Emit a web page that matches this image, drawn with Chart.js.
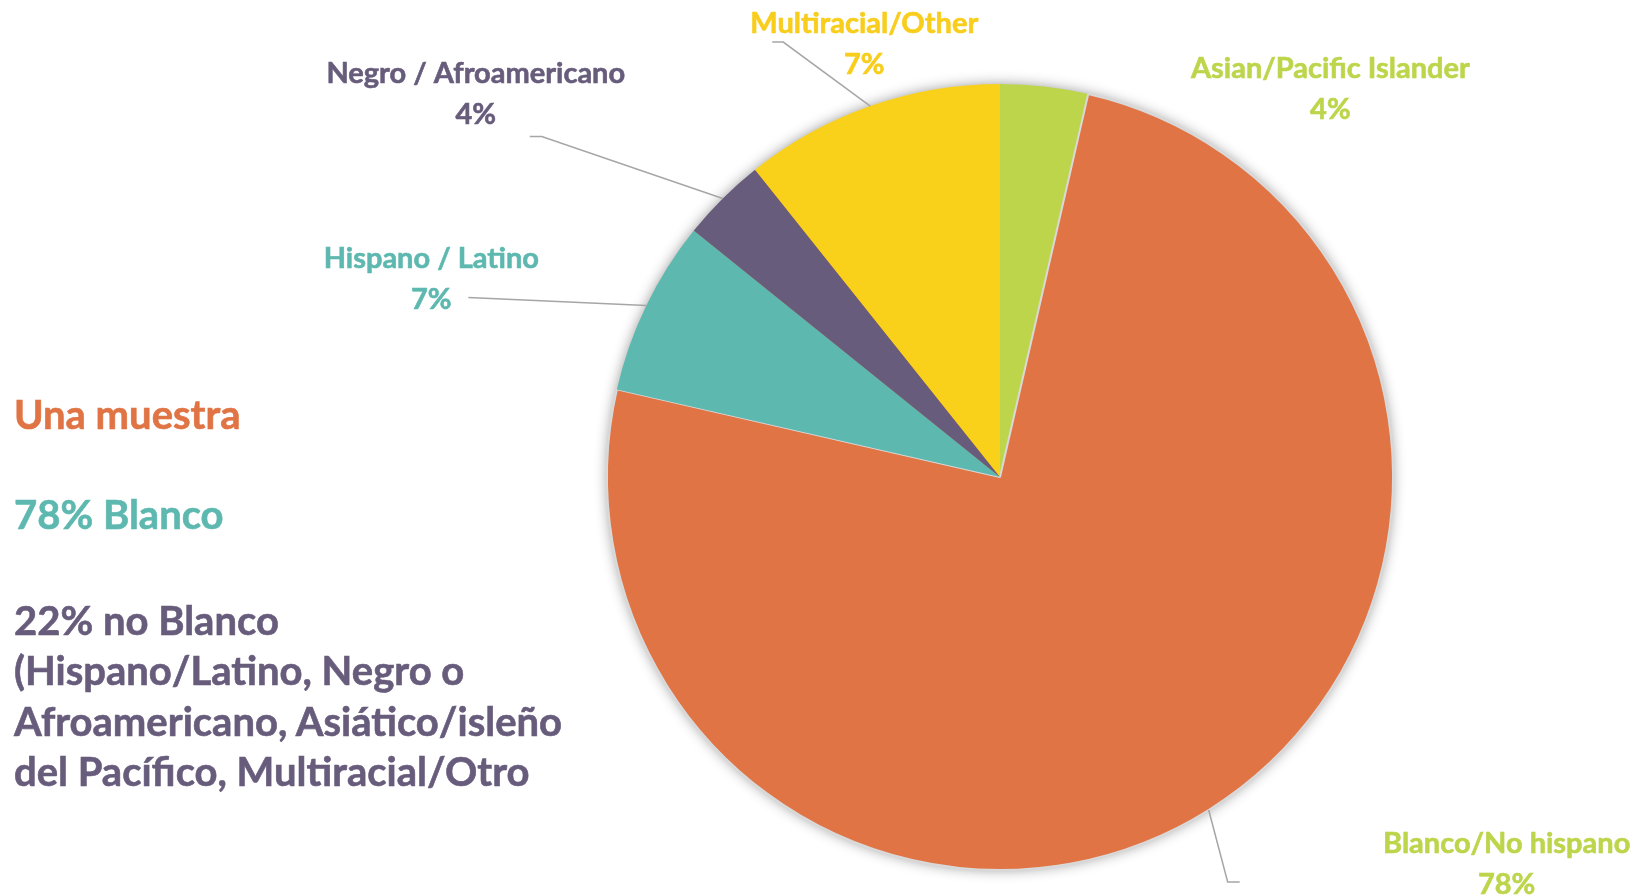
<!DOCTYPE html>
<html>
<head>
<meta charset="utf-8">
<script src="https://cdn.jsdelivr.net/npm/chart.js@4/dist/chart.umd.min.js"></script>
<style>
  html, body { margin: 0; padding: 0; background: #fff; }
  #wrap { position: relative; width: 1651px; height: 896px; overflow: hidden; font-family: Lato, sans-serif; font-weight: 700; }
  canvas { position: absolute; left: 0; top: 0; }
  .note { position: absolute; left: 14px; font-size: 40px; line-height: 50.4px; white-space: nowrap; -webkit-text-stroke: 0.6px currentColor; }
</style>
</head>
<body>
<div id="wrap">
  <canvas id="pie" width="1651" height="896"></canvas>
  <div class="note" style="top:389px;color:#e07444">Una muestra</div>
  <div class="note" style="top:489px;color:#5db8b0">78% Blanco</div>
  <div class="note" style="top:595px;color:#675c7b">22% no Blanco<br>(Hispano/Latino, Negro o<br>Afroamericano, Asiático/isleño<br>del Pacífico, Multiracial/Otro</div>
</div>
<script>
const categories = ['Asian/Pacific Islander', 'Blanco/No hispano', 'Hispano / Latino', 'Negro / Afroamericano', 'Multiracial/Other'];
const shares = [3.6, 74.9, 7.2, 3.5, 10.7];
const shareLabels = ['4%', '78%', '7%', '4%', '7%'];

const sliceColors = ['#bdd54b', '#e07444', '#5db8b0', '#675c7b', '#f9d11b'];
const labelColors = ['#bdd54b', '#bdd54b', '#5db8b0', '#675c7b', '#f8cd1c'];

// where each label sits, measured from the outer middle of its slice
const labelPlace = [
    { dx: 286, dy: -9 },
    { dx: 298, dy: 43, leader: [[19, 72], [31, 72]] },
    { dx: -215, dy: -38, leader: [[-178, -8], [-178, -8]] },
    { dx: -247, dy: -115, leader: [[-181, -62], [-193, -62]] },
    { dx: -6, dy: -73, leader: [[-87, -64], [-98, -64]] }
];

const sliceLabels = {
    id: 'sliceLabels',
    beforeDatasetsDraw(chart) {
        // soft shadow round the whole pie
        const arc = chart.getDatasetMeta(0).data[0];
        const ctx = chart.ctx;
        ctx.save();
        ctx.shadowColor = 'rgba(0, 0, 0, 0.45)';
        ctx.shadowBlur = 14;
        ctx.fillStyle = '#e07444';
        ctx.beginPath();
        ctx.arc(arc.x, arc.y, arc.outerRadius - 1, 0, Math.PI * 2);
        ctx.fill();
        ctx.restore();
    },
    afterDatasetsDraw(chart) {
        const ctx = chart.ctx;
        chart.getDatasetMeta(0).data.forEach((arc, i) => {
            const mid = (arc.startAngle + arc.endAngle) / 2;
            const ex = arc.x + Math.cos(mid) * arc.outerRadius;
            const ey = arc.y + Math.sin(mid) * arc.outerRadius;
            const p = labelPlace[i];
            ctx.save();
            if (p.leader) {
                ctx.strokeStyle = '#a6a6a6';
                ctx.lineWidth = 1.5;
                ctx.beginPath();
                ctx.moveTo(ex, ey);
                p.leader.forEach(pt => ctx.lineTo(ex + pt[0], ey + pt[1]));
                ctx.stroke();
            }
            ctx.font = 'bold 29px Lato';
            ctx.fillStyle = labelColors[i];
            ctx.strokeStyle = labelColors[i];
            ctx.lineWidth = 0.6;
            ctx.textAlign = 'center';
            ctx.textBaseline = 'alphabetic';
            [categories[i], shareLabels[i]].forEach((t, k) => {
                ctx.fillText(t, ex + p.dx, ey + p.dy + k * 41);
                ctx.strokeText(t, ex + p.dx, ey + p.dy + k * 41);
            });
            ctx.restore();
        });
    }
};

const ctx = document.getElementById('pie').getContext('2d');
new Chart(ctx, {
    type: 'pie',
    data: {
        labels: categories,
        datasets: [{
            data: shares,
            backgroundColor: sliceColors,
            borderColor: ['#ffffff', '#d9d9d9', '#ffffff', '#ffffff', '#ffffff'],
            borderWidth: [0, 2, 0, 0, 0],
            hoverOffset: 0
        }]
    },
    options: {
        responsive: false,
        animation: false,
        events: [],
        layout: { padding: { left: 606, right: 257, top: 83, bottom: 25 } },
        plugins: {
            legend: { display: false },
            tooltip: { enabled: false }
        }
    },
    plugins: [sliceLabels]
});
</script>
</body>
</html>
